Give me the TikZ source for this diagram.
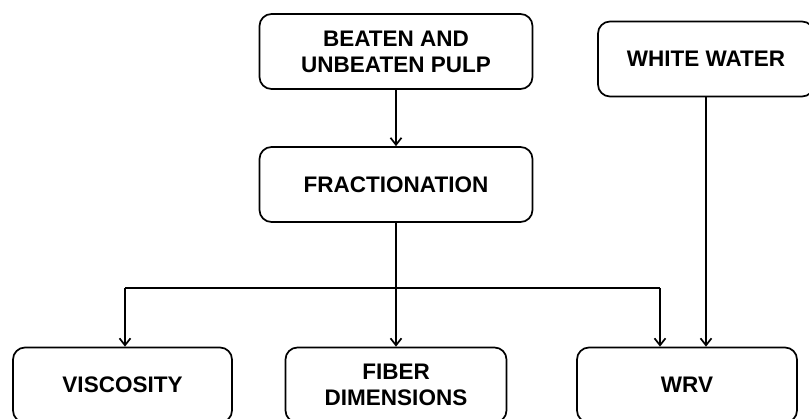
\documentclass[tikz,border=0pt]{standalone}
\usepackage{fontspec}
\setmainfont{Liberation Sans}
\usetikzlibrary{arrows.meta}

\begin{document}
\begin{tikzpicture}[x=1pt,y=-1pt,
  box/.style={draw,line width=1.7pt,rounded corners=12pt,align=center,
    minimum height=75pt,font=\bfseries\fontsize{22.5}{26}\selectfont},
  link/.style={line width=1.7pt},
  flow/.style={link,-{Straight Barb[length=7pt,width=11pt]}}]
\useasboundingbox (0,0) rectangle (809,418);
% top row
\node[box,minimum width=273pt] (pulp) at (396,51.5) {BEATEN AND\\UNBEATEN PULP};
\node[box,minimum width=216pt] (white) at (706,59) {WHITE WATER};
\node[box,minimum width=273pt] (fract) at (396,184.5) {FRACTIONATION};
% bottom row
\node[box,minimum width=219pt] (visc) at (122.5,385) {VISCOSITY};
\node[box,minimum width=221pt] (fiber) at (396,385) {FIBER\\DIMENSIONS};
\node[box,minimum width=220pt] (wrv) at (687,385) {WRV};
% bus
\coordinate (busL) at (125,288);
\coordinate (busR) at (660,288);
\draw[flow] (pulp.south) -- (fract.north);
\draw[flow] (fract.south) -- (fiber.north);
\draw[link] (busL) -- (busR);
\draw[flow] (busL) -- (busL |- visc.north);
\draw[flow] (busR) -- (busR |- wrv.north);
\draw[flow] (white.south) -- (white.south |- wrv.north);
\end{tikzpicture}
\end{document}
